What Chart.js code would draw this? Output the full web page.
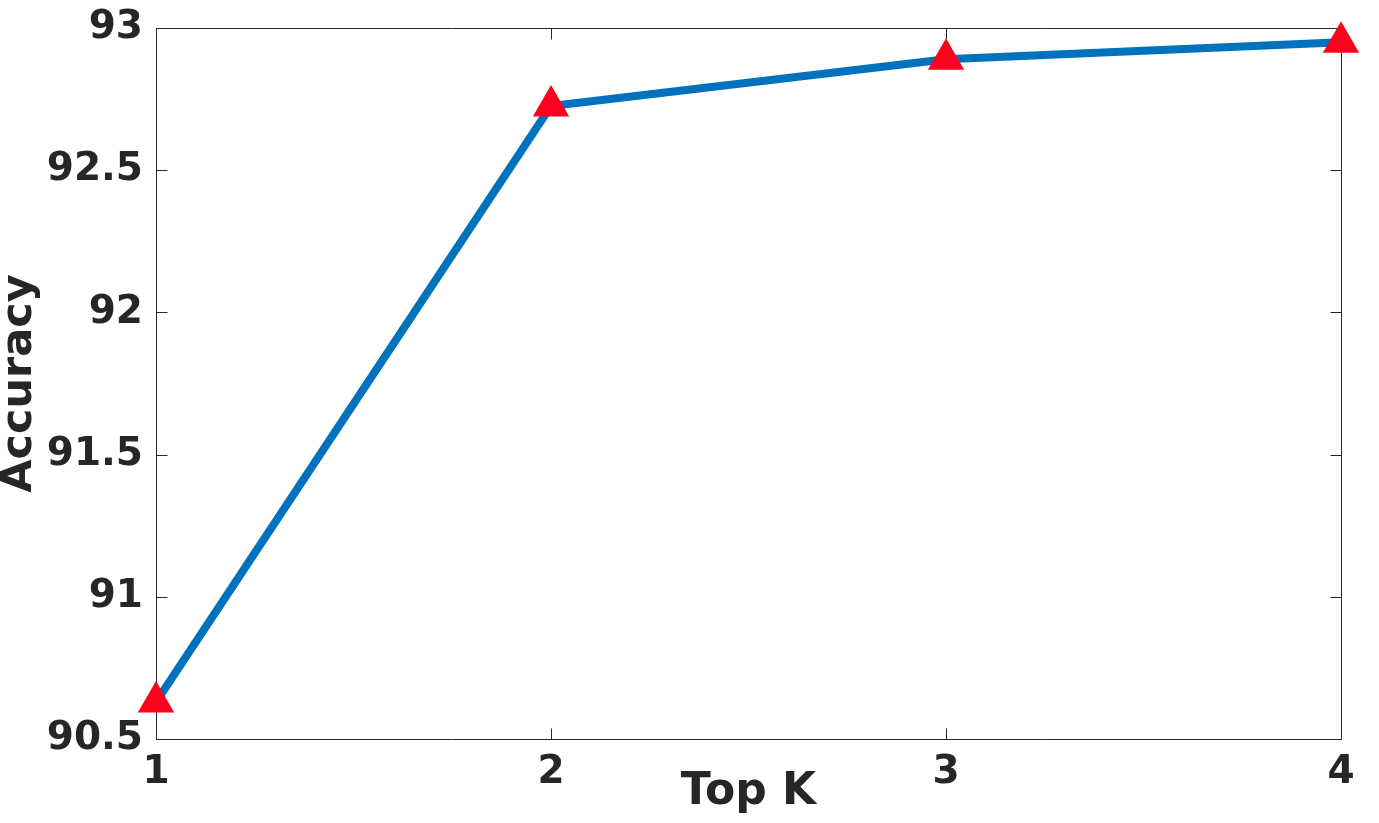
<!DOCTYPE html>
<html>
<head>
<meta charset="utf-8">
<script src="https://cdn.jsdelivr.net/npm/chart.js@4/dist/chart.umd.min.js"></script>
<style>
html,body{margin:0;padding:0;background:#fff;}
#wrap{width:1379px;height:823px;position:relative;}
</style>
</head>
<body>
<div id="wrap"><canvas id="c" width="1379" height="823"></canvas></div>
<script>
const topK = ['1', '2', '3', '4'];
const accuracy = [90.63, 92.726, 92.89, 92.95];
const yTicks = [90.5, 91, 91.5, 92, 92.5, 93];
const xTitle = 'Top K';
const yTitle = 'Accuracy';

const AX = '#262626';
const FONT = 'DejaVu Sans';

const boxPlugin = {
  id: 'box',
  beforeDatasetsDraw(chart) {
    const {ctx, chartArea: a, scales: {x, y}} = chart;
    const L = Math.round(a.left) + 0.5, R = Math.round(a.right) + 0.5;
    const T = Math.round(a.top) + 0.5, B = Math.round(a.bottom) + 0.5;
    const tl = 11;
    ctx.save();
    ctx.strokeStyle = AX;
    ctx.lineWidth = 1;
    ctx.beginPath();
    ctx.rect(L, T, R - L, B - T);
    x.ticks.forEach((t, i) => {
      const px = Math.round(x.getPixelForTick(i)) + 0.5;
      ctx.moveTo(px, B); ctx.lineTo(px, B - tl);
      ctx.moveTo(px, T); ctx.lineTo(px, T + tl);
    });
    y.ticks.forEach((t) => {
      const py = Math.round(y.getPixelForValue(t.value)) + 0.5;
      ctx.moveTo(L, py); ctx.lineTo(L + tl, py);
      ctx.moveTo(R, py); ctx.lineTo(R - tl, py);
    });
    ctx.stroke();
    ctx.restore();
  }
};

new Chart(document.getElementById('c'), {
  type: 'line',
  data: {
    labels: topK,
    datasets: [{
      data: accuracy,
      borderColor: '#0072BD',
      borderWidth: 8,
      pointStyle: 'triangle',
      pointRadius: 21,
      pointHoverRadius: 21,
      pointBackgroundColor: '#ff001e',
      pointBorderColor: '#ff001e',
      pointBorderWidth: 0,
      tension: 0,
      clip: false
    }]
  },
  options: {
    responsive: false,
    animation: false,
    events: [],
    layout: {padding: {left: 0, right: 38, top: 28, bottom: 0}},
    plugins: {legend: {display: false}, tooltip: {enabled: false}},
    scales: {
      x: {
        type: 'category',
        offset: false,
        grid: {display: false, drawTicks: false},
        border: {display: false},
        ticks: {
          color: AX, padding: 14.5, maxRotation: 0, autoSkip: false,
          font: {family: FONT, size: 39, weight: 'bold', lineHeight: 1}
        },
        title: {
          display: true, text: xTitle, color: AX,
          font: {family: FONT, size: 44, weight: 'bold', lineHeight: 1},
          padding: {top: 0, bottom: 8}
        },
        afterFit(s) { s.height = 84; s.paddingLeft = 0; s.paddingRight = 0; }
      },
      y: {
        min: 90.5, max: 93,
        grid: {display: false, drawTicks: false},
        border: {display: false},
        afterBuildTicks(s) { s.ticks = yTicks.map(v => ({value: v})); },
        ticks: {
          color: AX, padding: 13,
          font: {family: FONT, size: 39, weight: 'bold', lineHeight: 1},
          callback: (v) => String(v)
        },
        title: {
          display: true, text: yTitle, color: AX,
          font: {family: FONT, size: 43, weight: 'bold', lineHeight: 1},
          padding: {top: -2, bottom: 0}
        },
        afterFit(s) { s.width = 156; s.paddingTop = 0; s.paddingBottom = 0; }
      }
    }
  },
  plugins: [boxPlugin]
});
</script>
</body>
</html>
